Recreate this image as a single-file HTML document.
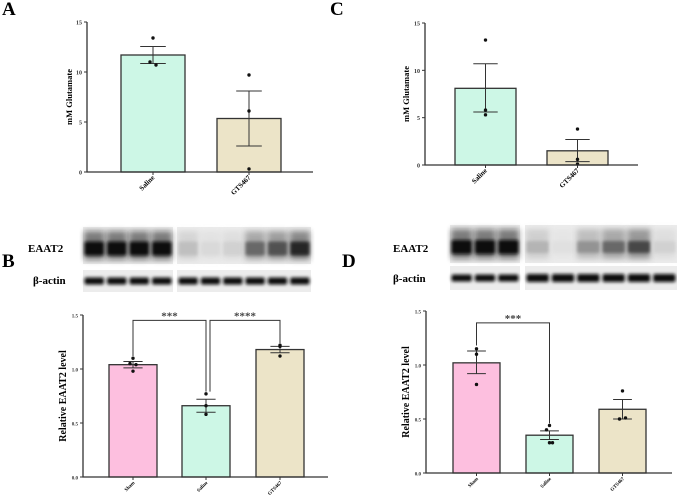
<!DOCTYPE html>
<html><head><meta charset="utf-8">
<style>
html,body{margin:0;padding:0;background:#fff;}
svg{display:block;font-family:"Liberation Serif",serif;}
</style></head>
<body>
<svg id="fig" width="677" height="499" viewBox="0 0 677 499" xmlns="http://www.w3.org/2000/svg">
<defs>
<filter id="blur" x="-20%" y="-50%" width="140%" height="200%"><feGaussianBlur stdDeviation="1.6"/></filter>
<filter id="blur2" x="-20%" y="-80%" width="140%" height="260%"><feGaussianBlur stdDeviation="3"/></filter>
</defs>
<text x="2" y="15" font-size="19" font-weight="bold">A</text>
<text x="330" y="15" font-size="19" font-weight="bold">C</text>
<text x="2" y="267" font-size="19" font-weight="bold">B</text>
<text x="342" y="267" font-size="19" font-weight="bold">D</text>
<text x="28" y="252" font-size="11" font-weight="bold">EAAT2</text>
<text x="33" y="284" font-size="11" font-weight="bold">β-actin</text>
<text x="393" y="252" font-size="11" font-weight="bold">EAAT2</text>
<text x="393" y="282" font-size="11" font-weight="bold">β-actin</text>
<g id="blots"></g>
<g id="charts"></g>
</svg>
<script>
// Panel A data
const catsA = ["Saline","GTS467"];
const meansA = [11.7, 5.35];
const errHiA = [12.55, 8.1];
const errLoA = [10.85, 2.6];
const ptsA = [[13.4, 11.0, 10.7],[9.7, 6.1, 0.3]];
const ticksA = [0, 5, 10, 15];
// Panel C data
const catsC = ["Saline","GTS467"];
const meansC = [8.1, 1.5];
const errHiC = [10.7, 2.7];
const errLoC = [5.6, 0.35];
const ptsC = [[13.2, 5.8, 5.3],[3.8, 0.6, 0.1]];
const ticksC = [0, 5, 10, 15];
// Panel B data
const catsB = ["Sham","Saline","GTS467"];
const meansB = [1.04, 0.66, 1.18];
const errHiB = [1.07, 0.72, 1.21];
const errLoB = [1.01, 0.60, 1.15];
const ptsB = [[1.10, 1.05, 1.04, 0.98],[0.77, 0.66, 0.58],[1.22, 1.21, 1.12]];
const ticksB = [0.0, 0.5, 1.0, 1.5];
const ticksBLbl = ["0.0","0.5","1.0","1.5"];
// Panel D data
const catsD = ["Sham","Saline","GTS467"];
const meansD = [1.02, 0.35, 0.59];
const errHiD = [1.13, 0.39, 0.68];
const errLoD = [0.92, 0.31, 0.50];
const ptsD = [[1.15, 1.10, 0.82],[0.44, 0.40, 0.28, 0.28],[0.76, 0.50, 0.51]];
const ticksD = [0.0, 0.5, 1.0, 1.5];
const ticksDLbl = ["0.0","0.5","1.0","1.5"];

const NS = "http://www.w3.org/2000/svg";
const fills = {"Sham":"#fdbfdf","Saline":"#cdf7e6","GTS467":"#ece4c8"};
function mk(tag, attrs, parent){
  const e = document.createElementNS(NS, tag);
  for (const k in attrs) e.setAttribute(k, attrs[k]);
  parent.appendChild(e);
  return e;
}
const root = document.getElementById("charts");

function drawChart(id, g, cats, means, hi, lo, pts, ticks, tickLbl, title, sig){
  const grp = mk("g", {}, root);
  
  
  const y = v => g.y0 + (g.y1 - g.y0) * (v / ticks[ticks.length-1]);
  cats.forEach((c, i) => {
    const x0 = g.bx[i], w = g.bw, cx = x0 + w/2;
    const b = mk("rect", {x:x0, y:y(means[i]), width:w, height:g.y0 - y(means[i]), fill:fills[c], stroke:"#333", "stroke-width":1.3}, grp);
    
    
    const eb = mk("path", {d:`M${cx} ${y(hi[i])}V${y(lo[i])}M${cx-w*0.2} ${y(hi[i])}H${cx+w*0.2}M${cx-w*0.2} ${y(lo[i])}H${cx+w*0.2}`, stroke:"#333", "stroke-width":1, fill:"none"}, grp);
    
    
    const n = pts[i].length;
    pts[i].forEach((v, j) => {
      const off = n === 4 ? (j===1 ? -3 : j===2 ? 3 : 0) : (n===3 && Math.abs(pts[i][1]-pts[i][2]) < (ticks[3]*0.03) ? (j===1?-3:j===2?3:0) : 0);
      const d = mk("circle", {cx:cx+off, cy:y(v), r:1.7, fill:"#111"}, grp);
      
      
    });
    mk("line", {x1:cx, x2:cx, y1:g.y0, y2:g.y0+3, stroke:"#333"}, grp);
    const t = mk("text", {x:0, y:0, "font-size":g.cfs, "font-weight":"bold", "text-anchor":"end", transform:`translate(${cx+2},${g.y0+6}) rotate(-45)`}, grp);
    t.textContent = c;
    
    
  });
  const ax = mk("path", {d:`M${g.ax} ${y(ticks[ticks.length-1])}V${g.y0}H${g.xend}`, stroke:"#333", "stroke-width":1.3, fill:"none"}, grp);
  
  
  ticks.forEach((v, k) => {
    mk("line", {x1:g.ax-3, x2:g.ax, y1:y(v), y2:y(v), stroke:"#333"}, grp);
    const t = mk("text", {x:g.ax-5, y:y(v)+2.5, "font-size":g.tfs, "font-weight":"bold", "text-anchor":"end", fill:"#333"}, grp);
    t.textContent = tickLbl[k];
    
    
  });
  const yt = mk("text", {x:0, y:0, "font-size":g.yfs, "font-weight":"bold", "text-anchor":"middle", transform:`translate(${g.ytx},${(g.y0+g.y1)/2}) rotate(-90)`}, grp);
  yt.textContent = title;
  
  
  (sig || []).forEach(s => {
    const xa = g.bx[s.a] + g.bw/2 + (s.dxa||0), xb = g.bx[s.b] + g.bw/2 + (s.dxb||0);
    const by = y(s.level);
    const p = mk("path", {d:`M${xa} ${y(s.endA)}V${by}H${xb}V${y(s.endB)}`, stroke:"#333", "stroke-width":1, fill:"none"}, grp);
    
    
    const t = mk("text", {x:(xa+xb)/2, y:by-1, "font-size":11, "font-weight":"bold", "text-anchor":"middle", fill:"#444"}, grp);
    t.textContent = s.label;
    
    
  });
}

drawChart("a", {ax:87, y0:172, y1:22, xend:313, bx:[121,217], bw:64, cfs:7, tfs:6, yfs:8.5, ytx:72}, catsA, meansA, errHiA, errLoA, ptsA, ticksA, ticksA.map(String), "mM Glutamate");
drawChart("c", {ax:425, y0:165, y1:23, xend:638, bx:[455,547], bw:61, cfs:7, tfs:6, yfs:8.5, ytx:409}, catsC, meansC, errHiC, errLoC, ptsC, ticksC, ticksC.map(String), "mM Glutamate");
drawChart("b", {ax:83, y0:477, y1:315, xend:328, bx:[109,182,256], bw:48, cfs:5, tfs:5, yfs:10, ytx:66}, catsB, meansB, errHiB, errLoB, ptsB, ticksB, ticksBLbl, "Relative EAAT2 level",
  [{a:0,b:1,level:1.45,endA:1.12,endB:0.79,label:"***"},{a:1,b:2,level:1.45,endA:0.79,endB:1.24,dxa:4,label:"****"}]);
drawChart("d", {ax:426, y0:473, y1:311, xend:672, bx:[453,526,599], bw:47, cfs:5, tfs:5, yfs:10, ytx:409}, catsD, meansD, errHiD, errLoD, ptsD, ticksD, ticksDLbl, "Relative EAAT2 level",
  [{a:0,b:1,level:1.39,endA:1.18,endB:0.46,label:"***"}]);

const blotB_eaat2_1 = [1,1,1,1];
const blotB_eaat2_2 = [0.2,0.08,0.12,0.6,0.7,0.9];
const blotB_actin_1 = [1,1,1,1];
const blotB_actin_2 = [1,1,1,1,1,1];
const blotD_eaat2_1 = [1,1,1];
const blotD_eaat2_2 = [0.25,0.05,0.4,0.6,0.75,0.12];
const blotD_actin_1 = [1,1,1];
const blotD_actin_2 = [1,1,1,1,1,1];
const broot = document.getElementById("blots");
function blot(name, x, yTop, w, h, lanes, bandH, big){
  const g = mk("g", {}, broot);
  
  
  mk("rect", {x:x, y:yTop, width:w, height:h, fill:"#ececec"}, g);
  const lw = w / lanes.length;
  lanes.forEach((v, i) => {
    const c = Math.round(235 - 220*v);
    const col = `rgb(${c},${c},${c})`;
    if (big) mk("rect", {x:x+i*lw+1, y:yTop+4, width:lw-2, height:h-8, fill:col, opacity:0.5, filter:"url(#blur2)"}, g);
    mk("rect", {x:x+i*lw+1.5, y:yTop+(h-bandH)/2 + (big?3:0), width:lw-3, height:bandH, rx:2, fill:col, filter:"url(#blur)"}, g);
  });
}
blot("blot-b-eaat2-left", 83, 227, 90, 37, blotB_eaat2_1, 14, true);
blot("blot-b-eaat2-right", 177, 227, 134, 37, blotB_eaat2_2, 14, true);
blot("blot-b-actin-left", 83, 270, 90, 22, blotB_actin_1, 7, false);
blot("blot-b-actin-right", 177, 270, 134, 22, blotB_actin_2, 7, false);
blot("blot-d-eaat2-left", 450, 225, 70, 38, blotD_eaat2_1, 14, true);
blot("blot-d-eaat2-right", 525, 225, 152, 38, blotD_eaat2_2, 12, true);
blot("blot-d-actin-left", 450, 266, 70, 24, blotD_actin_1, 7, false);
blot("blot-d-actin-right", 525, 266, 152, 24, blotD_actin_2, 8, false);
</script>
</body></html>
